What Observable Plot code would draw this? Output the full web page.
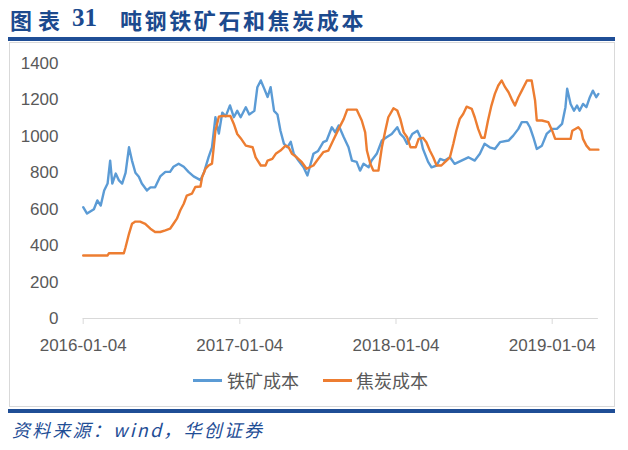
<!DOCTYPE html>
<html>
<head>
<meta charset="utf-8">
<script src="https://cdn.jsdelivr.net/npm/d3@7"></script>
<script src="https://cdn.jsdelivr.net/npm/@observablehq/plot@0.6"></script>
<style>
  body { margin: 0; background: #fff; }
  #root { position: relative; width: 628px; height: 450px; overflow: hidden; background: #fff; }
  .abs { position: absolute; }
  .title { font-family: "Noto Sans CJK SC", sans-serif; font-weight: 700; color: #1c4a8e; font-size: 22px; line-height: 22px; top: 8px; white-space: nowrap; }
  .legend-text { font-family: "Noto Sans CJK SC", sans-serif; color: #595959; font-size: 18px; line-height: 20px; top: 370px; white-space: nowrap; }
</style>
</head>
<body>
<div id="root">
  <div class="abs title" style="left:10px;letter-spacing:6px;">图表</div>
  <div class="abs title" style="left:72px;font-family:'Liberation Serif',serif;font-size:25px;top:7px;">31</div>
  <div class="abs title" style="left:120px;letter-spacing:2.6px;">吨钢铁矿石和焦炭成本</div>
  <div class="abs" style="left:8px;top:37px;width:607px;height:4px;background:#1f4e96;"></div>
  <div class="abs" style="left:9px;top:42px;width:604px;height:363px;border:1px solid #d9d9d9;"></div>
  <div id="chart" class="abs" style="left:9px;top:42px;"></div>
  <div class="abs" style="left:193px;top:379px;width:29px;height:3px;background:#5b9bd5;"></div>
  <div class="abs legend-text" style="left:227px;">铁矿成本</div>
  <div class="abs" style="left:323px;top:379px;width:29px;height:3px;background:#ed7d31;"></div>
  <div class="abs legend-text" style="left:356px;">焦炭成本</div>
  <div class="abs" style="left:8px;top:409px;width:607px;height:3.5px;background:#1f4e96;"></div>
  <div class="abs" style="left:12px;top:419px;font-family:'Noto Sans CJK SC',sans-serif;font-style:italic;color:#1f4e96;font-size:18px;line-height:20px;letter-spacing:2.2px;white-space:nowrap;">资料来源：wind，华创证券</div>
</div>
<script>
// 铁矿成本 (iron ore cost per ton of steel)
const oreDates = ["2016-01-04","2016-01-13","2016-01-29","2016-02-06","2016-02-14","2016-02-22","2016-03-01","2016-03-07","2016-03-12","2016-03-20","2016-03-27","2016-04-04","2016-04-12","2016-04-20","2016-04-27","2016-05-05","2016-05-13","2016-05-20","2016-06-01","2016-06-09","2016-06-20","2016-07-02","2016-07-14","2016-07-25","2016-08-02","2016-08-14","2016-08-26","2016-09-06","2016-09-18","2016-10-04","2016-10-12","2016-10-23","2016-10-31","2016-11-08","2016-11-16","2016-11-24","2016-12-02","2016-12-12","2016-12-21","2016-12-29","2017-01-06","2017-01-18","2017-01-26","2017-02-07","2017-02-14","2017-02-22","2017-03-02","2017-03-10","2017-03-17","2017-03-25","2017-04-02","2017-04-09","2017-04-17","2017-04-25","2017-05-03","2017-05-10","2017-05-21","2017-06-02","2017-06-11","2017-06-25","2017-07-06","2017-07-18","2017-07-26","2017-08-07","2017-08-15","2017-08-23","2017-09-04","2017-09-15","2017-09-23","2017-10-04","2017-10-12","2017-10-20","2017-11-01","2017-11-08","2017-11-20","2017-12-02","2017-12-13","2017-12-25","2018-01-07","2018-01-14","2018-01-22","2018-01-30","2018-02-11","2018-02-23","2018-03-02","2018-03-08","2018-03-20","2018-03-28","2018-04-09","2018-04-17","2018-04-28","2018-05-10","2018-05-21","2018-06-06","2018-06-22","2018-07-07","2018-07-19","2018-07-30","2018-08-11","2018-08-23","2018-09-04","2018-09-24","2018-10-05","2018-10-17","2018-10-25","2018-11-06","2018-11-13","2018-11-21","2018-11-29","2018-12-11","2018-12-22","2019-01-04","2019-01-15","2019-01-27","2019-02-04","2019-02-08","2019-02-16","2019-02-24","2019-03-03","2019-03-09","2019-03-17","2019-03-25","2019-04-02","2019-04-09","2019-04-17","2019-04-22"];
const oreValues = [611,576,600,648,620,703,741,867,741,796,760,741,800,940,867,800,778,741,703,720,720,780,805,805,833,850,833,805,780,760,800,886,940,1105,1015,1130,1110,1170,1105,1140,1105,1160,1120,1140,1270,1307,1262,1216,1270,1140,1120,1031,960,940,970,905,867,830,785,904,920,968,977,1050,1022,1060,995,940,867,860,812,849,830,867,904,977,995,1013,1050,1013,995,959,1013,1031,995,931,860,830,840,876,867,885,849,867,885,867,904,959,940,931,968,977,1004,1041,1078,1078,1050,995,931,949,1013,1041,1041,1068,1160,1261,1178,1141,1169,1141,1178,1160,1215,1251,1215,1233];

// 焦炭成本 (coke cost per ton of steel)
const cokeDates = ["2016-01-04","2016-03-01","2016-03-04","2016-04-08","2016-04-12","2016-04-20","2016-04-27","2016-05-05","2016-05-16","2016-05-28","2016-06-09","2016-06-20","2016-07-02","2016-07-14","2016-07-25","2016-08-02","2016-08-10","2016-08-18","2016-08-26","2016-09-02","2016-09-14","2016-09-22","2016-10-04","2016-10-08","2016-10-16","2016-10-23","2016-10-31","2016-11-04","2016-11-08","2016-11-16","2016-11-24","2016-12-13","2016-12-21","2016-12-29","2017-01-06","2017-01-18","2017-02-03","2017-02-10","2017-02-22","2017-03-05","2017-03-10","2017-03-21","2017-03-29","2017-04-09","2017-04-21","2017-04-28","2017-05-06","2017-05-17","2017-05-29","2017-06-09","2017-06-25","2017-07-06","2017-07-18","2017-07-30","2017-08-10","2017-08-23","2017-09-04","2017-09-12","2017-10-04","2017-10-16","2017-10-24","2017-10-28","2017-11-05","2017-11-12","2017-11-24","2017-12-02","2017-12-10","2017-12-17","2017-12-29","2018-01-07","2018-01-14","2018-01-22","2018-01-30","2018-02-07","2018-02-19","2018-02-26","2018-03-08","2018-03-16","2018-03-24","2018-04-01","2018-04-09","2018-04-20","2018-05-02","2018-05-10","2018-05-18","2018-05-25","2018-06-02","2018-06-10","2018-06-18","2018-06-30","2018-07-07","2018-07-15","2018-07-23","2018-07-30","2018-08-07","2018-08-15","2018-08-23","2018-08-31","2018-09-08","2018-09-16","2018-09-24","2018-10-01","2018-10-09","2018-10-17","2018-10-25","2018-11-06","2018-11-17","2018-11-25","2018-11-29","2018-12-11","2018-12-26","2019-01-04","2019-01-11","2019-02-16","2019-02-20","2019-03-06","2019-03-13","2019-03-17","2019-03-25","2019-04-02","2019-04-22"];
const cokeValues = [346,346,358,358,391,465,520,532,532,520,493,475,475,484,493,520,548,594,630,675,685,722,725,777,823,840,850,940,1031,1108,1112,1112,1068,1013,990,949,940,885,840,840,867,876,904,922,949,940,904,885,858,822,840,876,913,922,977,1041,1096,1147,1147,1087,1022,922,849,812,812,940,1031,1105,1154,1142,1096,1022,995,940,940,986,992,968,922,885,840,840,867,885,959,1031,1096,1123,1163,1151,1105,1041,992,992,1087,1169,1233,1279,1307,1270,1242,1206,1169,1215,1251,1307,1307,1197,1087,1087,1078,1031,986,986,1031,1050,1031,986,949,927,927];

const yTicks = [0,200,400,600,800,1000,1200,1400];
const xTickLabels = ["2016-01-04","2017-01-04","2018-01-04","2019-01-04"];
const xDomain = ["2016-01-04","2019-04-22"];

const parse = d3.utcParse("%Y-%m-%d");
const fmt = d3.utcFormat("%Y-%m-%d");
const ore = oreDates.map((d, i) => ({date: parse(d), value: oreValues[i]}));
const coke = cokeDates.map((d, i) => ({date: parse(d), value: cokeValues[i]}));

const chart = Plot.plot({
  width: 606,
  height: 320,
  marginLeft: 73.7,
  marginRight: 17.1,
  marginTop: 21,
  marginBottom: 44,
  style: {background: "transparent", fontFamily: "'Liberation Sans', Arial, sans-serif", fontSize: "17px", color: "#595959", overflow: "visible"},
  x: {type: "utc", domain: xDomain.map(parse)},
  y: {domain: [0, 1400]},
  marks: [
    Plot.axisY({ticks: yTicks, tickSize: 0, tickPadding: 24.7, tickFormat: d => String(d), label: null, fill: "#595959"}),
    Plot.ruleY([0], {stroke: "#d9d9d9", strokeWidth: 1}),
    Plot.axisX({ticks: xTickLabels.map(parse), tickSize: 6, tickPadding: 14, tickFormat: fmt, label: null, stroke: "#d9d9d9", fill: "#595959", strokeOpacity: 1}),
    Plot.lineY(ore, {x: "date", y: "value", stroke: "#5b9bd5", strokeWidth: 2.4}),
    Plot.lineY(coke, {x: "date", y: "value", stroke: "#ed7d31", strokeWidth: 2.4})
  ]
});
document.getElementById("chart").appendChild(chart);
</script>
</body>
</html>
